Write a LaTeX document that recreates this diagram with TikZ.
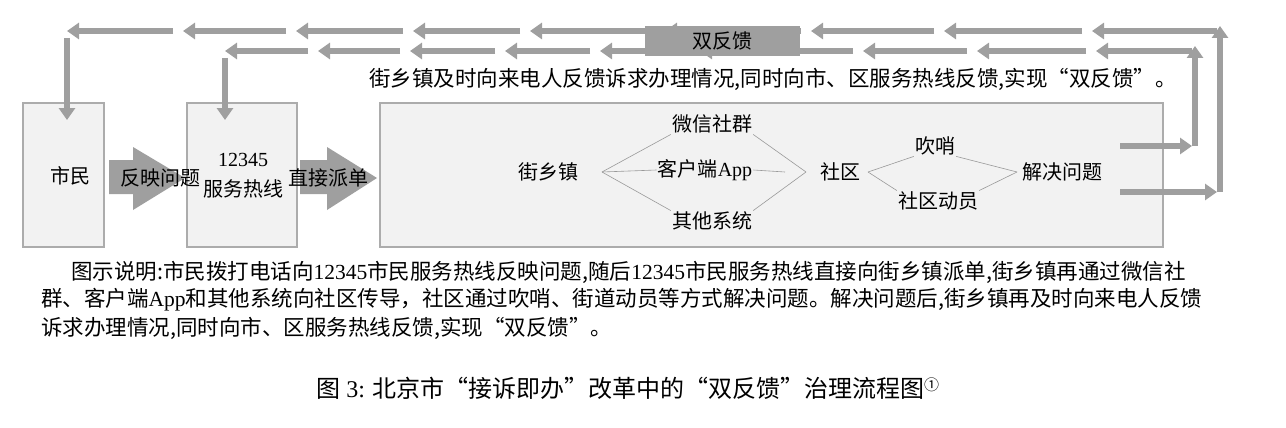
\documentclass[tikz,border=0pt]{standalone}
\usepackage{fontspec}
\setmainfont{Liberation Serif}
\newfontfamily\cjk{Noto Sans CJK SC}
\usetikzlibrary{arrows.meta, positioning}

\begin{document}
\begin{tikzpicture}[x=1pt, y=-1pt, font=\cjk\fontsize{20}{23}\selectfont]
	\tikzstyle{box} = [draw=gray!65, line width=2.5pt, fill=gray!10]
	\tikzstyle{thin} = [draw=gray!75, line width=6pt, -{Triangle[width=16pt, length=12pt]}]
	\tikzstyle{bigarrow} = [fill=gray!75]
	\tikzstyle{branch} = [draw=gray!80, line width=0.6pt]
	\tikzstyle{lbl} = [inner sep=1pt]
	\tikzstyle{para} = [inner sep=1pt, anchor=west, font=\cjk\fontsize{21.5}{24}\selectfont]

	\useasboundingbox (0,0) rectangle (1286,428);

	% boxes
	\draw[box] (23,103) rectangle (104,247);
	\draw[box] (187,103) rectangle (297,247);
	\draw[box] (380,103) rectangle (1163,247);
	\node[lbl] (citizen) at (70,176) {市民};
	\node[lbl, align=center] (hotline) at (243,176) {{\rmfamily 12345}\\[7pt]服务热线};

	% big arrows
	\fill[bigarrow] (109,160) -- (133,160) -- (133,147) -- (185,178) -- (133,210) -- (133,194) -- (109,194) -- cycle;
	\node[lbl] (report) at (160,178) {反映问题};
	\fill[bigarrow] (300,160) -- (327,160) -- (327,147) -- (377,178) -- (327,210) -- (327,194) -- (300,194) -- cycle;
	\node[lbl] (dispatch) at (328,178) {直接派单};

	% inside the street box
	\node[lbl] (street) at (548,172) {街乡镇};
	\node[lbl] (wechat) at (712,124) {微信社群};
	\node[lbl] (app) at (705,170) {客户端{\rmfamily App}};
	\node[lbl] (other) at (712,221) {其他系统};
	\node[lbl] (comm) at (840,172) {社区};
	\node[lbl] (whistle) at (935,146) {吹哨};
	\node[lbl] (mobil) at (938,201) {社区动员};
	\node[lbl] (solve) at (1062,172) {解决问题};
	\coordinate (s0) at (602,172);
	\coordinate (s1) at (806,172);
	\coordinate (c0) at (868,172);
	\coordinate (c1) at (1017,172);
	\draw[branch] (s0) -- (wechat.south west) (wechat.south east) -- (s1);
	\draw[branch] (s0) -- (other.north west) (other.north east) -- (s1);
	\draw[branch] (s0) -- (app.west) (app.east) -- (785,172);
	\draw[branch] (c0) -- (whistle.south west) (whistle.south east) -- (c1);
	\draw[branch] (c0) -- (mobil.north west) (mobil.north east) -- (c1);

	% feedback lines
	\coordinate (outA) at (1120,146);
	\coordinate (outB) at (1120,192);
	\draw[thin] (outA) -- (1192,146);
	\draw[thin] (outB) -- (1217,192);
	\draw[thin] (1195,146) -- (1195,46);
	\draw[thin] (1220,192) -- (1220,26);
	\foreach \a/\b in {1217/1092, 1082/944, 934/811, 801/665, 655/530, 520/413, 403/296, 286/183, 173/67}
		\draw[thin] (\a,31) -- (\b,31);
	\foreach \a/\b in {1192/1096, 1086/977, 967/863, 853/700, 690/600, 590/505, 495/410, 400/318, 308/225}
		\draw[thin] (\a,51) -- (\b,51);
	\draw[thin] (67,38) -- (67,120);
	\draw[thin] (225,58) -- (225,120);
	\fill[gray!75] (645,26) rectangle (800,56);
	\node[lbl] (dual) at (722,41) {双反馈};
	\node[para] (note) at (368,79) {街乡镇及时向来电人反馈诉求办理情况,同时向市、区服务热线反馈,实现“双反馈”。};

	% caption text
	\node[para] (p1) at (70,272) {图示说明:市民拨打电话向{\rmfamily 12345}市民服务热线反映问题,随后{\rmfamily 12345}市民服务热线直接向街乡镇派单,街乡镇再通过微信社};
	\node[para] (p2) at (40,300) {群、客户端{\rmfamily App}和其他系统向社区传导，社区通过吹哨、街道动员等方式解决问题。解决问题后,街乡镇再及时向来电人反馈};
	\node[para] (p3) at (40,328) {诉求办理情况,同时向市、区服务热线反馈,实现“双反馈”。};
	\node[lbl, font=\cjk\fontsize{24}{26}\selectfont] (title) at (628,388) {图 {\rmfamily 3:} 北京市“接诉即办”改革中的“双反馈”治理流程图\raisebox{0.5ex}{\fontsize{15}{16}\selectfont ①}};
\end{tikzpicture}
\end{document}
